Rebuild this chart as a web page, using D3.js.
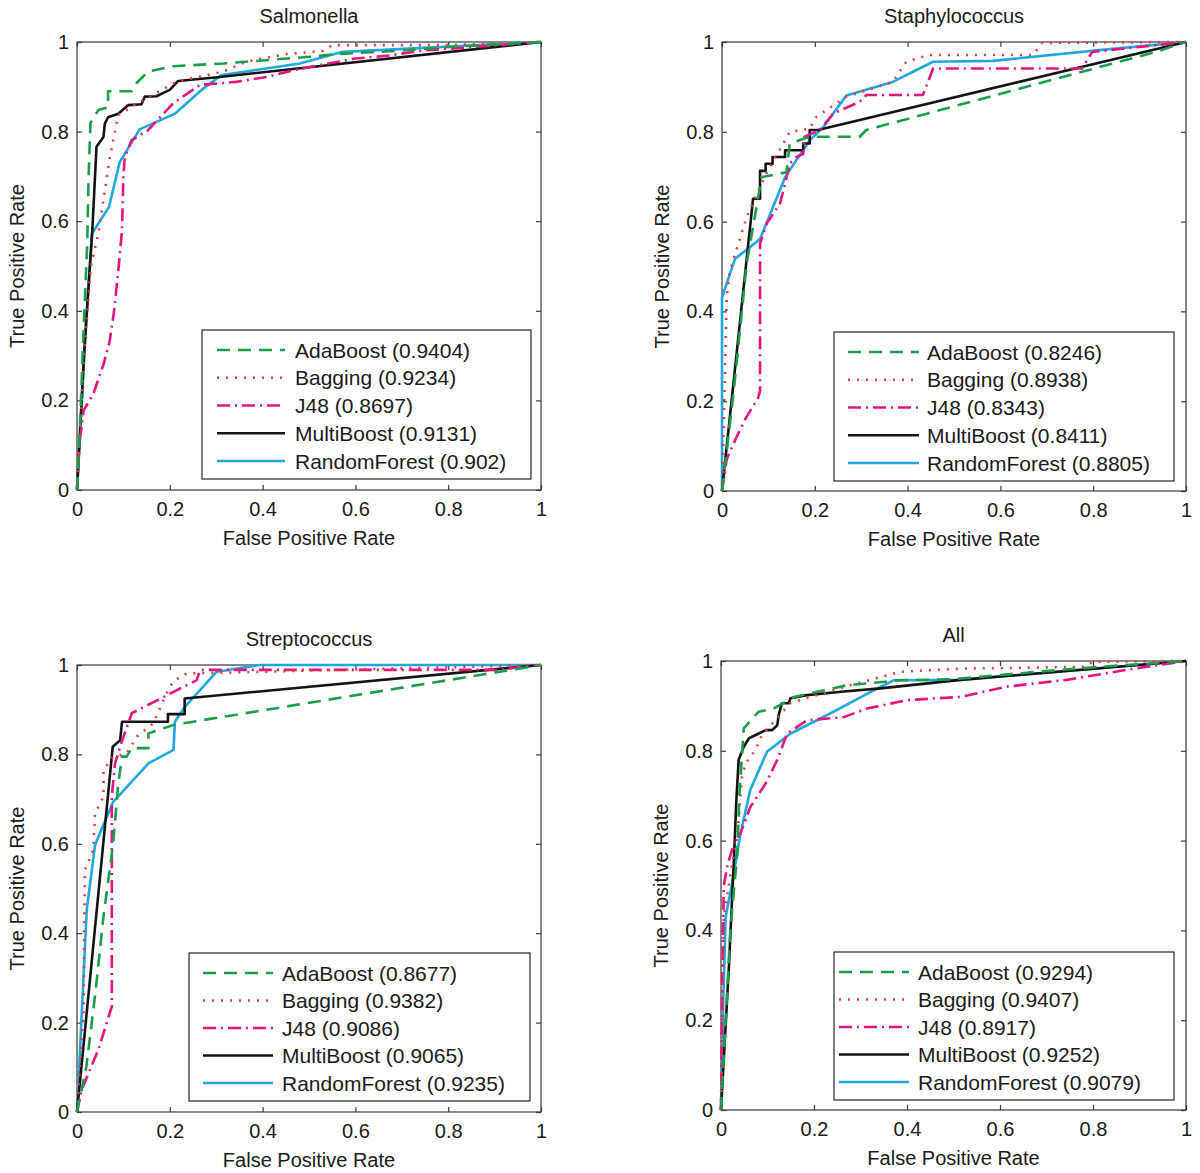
<!DOCTYPE html>
<html>
<head>
<meta charset="utf-8">
<script src="https://cdn.jsdelivr.net/npm/d3@7/dist/d3.min.js"></script>
<style>
  body { margin: 0; background: #fff; }
  svg { font-family: "Liberation Sans", Arial, sans-serif; }
  .tick text { font-size: 20px; fill: #1a1a1a; }
</style>
</head>
<body>
<div id="chart"></div>
<script>
// --- data ---
var panelTitles = ['Salmonella', 'Staphylococcus', 'Streptococcus', 'All'];
var models = ['AdaBoost', 'Bagging', 'J48', 'MultiBoost', 'RandomForest'];
var tickValues = [0, 0.2, 0.4, 0.6, 0.8, 1];
var tickLabels = ['0', '0.2', '0.4', '0.6', '0.8', '1'];

var aucSalmonella = ['0.9404', '0.9234', '0.8697', '0.9131', '0.902'];
var aucStaphylococcus = ['0.8246', '0.8938', '0.8343', '0.8411', '0.8805'];
var aucStreptococcus = ['0.8677', '0.9382', '0.9086', '0.9065', '0.9235'];
var aucAll = ['0.9294', '0.9407', '0.8917', '0.9252', '0.9079'];

// ROC points [FPR, TPR]
var salAda = [[0,0],[0.005,0.1],[0.012,0.3],[0.018,0.45],[0.022,0.55],[0.025,0.7],[0.029,0.82],[0.046,0.848],[0.067,0.854],[0.067,0.89],[0.118,0.89],[0.128,0.908],[0.153,0.934],[0.207,0.946],[0.315,0.952],[0.501,0.967],[0.558,0.973],[0.63,0.977],[0.688,0.98],[0.802,0.989],[1,1]];
var salBag = [[0,0],[0.005,0.1],[0.015,0.3],[0.03,0.5],[0.046,0.572],[0.06,0.669],[0.071,0.743],[0.082,0.803],[0.089,0.837],[0.135,0.866],[0.214,0.911],[0.315,0.934],[0.365,0.956],[0.451,0.973],[0.53,0.98],[0.55,0.993],[0.8,0.993],[1,1]];
var salJ48 = [[0,0],[0.005,0.1],[0.014,0.177],[0.035,0.214],[0.057,0.28],[0.07,0.33],[0.08,0.4],[0.09,0.5],[0.097,0.58],[0.1,0.7],[0.103,0.743],[0.118,0.781],[0.153,0.803],[0.207,0.863],[0.265,0.904],[0.343,0.911],[0.408,0.922],[0.48,0.94],[0.6,0.963],[0.673,0.97],[0.744,0.981],[0.817,0.986],[1,1]];
var salMulti = [[0,0],[0.015,0.3],[0.033,0.579],[0.042,0.766],[0.057,0.788],[0.06,0.818],[0.067,0.832],[0.089,0.84],[0.11,0.859],[0.139,0.861],[0.146,0.878],[0.171,0.879],[0.2,0.893],[0.218,0.913],[0.308,0.922],[1,1]];
var salRF = [[0,0],[0.008,0.15],[0.02,0.38],[0.032,0.572],[0.069,0.632],[0.092,0.732],[0.135,0.805],[0.211,0.84],[0.272,0.896],[0.311,0.926],[0.48,0.952],[0.573,0.978],[1,1]];

var staAda = [[0,0],[0.025,0.22],[0.046,0.432],[0.053,0.506],[0.078,0.654],[0.085,0.699],[0.139,0.71],[0.146,0.774],[0.189,0.789],[0.297,0.789],[0.311,0.804],[0.935,0.978],[1,1]];
var staBag = [[0,0],[0.005,0.2],[0.01,0.431],[0.017,0.49],[0.053,0.61],[0.082,0.677],[0.099,0.714],[0.146,0.8],[0.189,0.807],[0.203,0.833],[0.268,0.878],[0.368,0.911],[0.397,0.956],[0.447,0.971],[0.67,0.971],[0.69,0.998],[1,1]];
var staJ48 = [[0,0],[0.01,0.07],[0.024,0.104],[0.05,0.16],[0.078,0.208],[0.082,0.223],[0.082,0.551],[0.096,0.595],[0.125,0.64],[0.136,0.685],[0.146,0.729],[0.161,0.744],[0.175,0.751],[0.178,0.789],[0.211,0.804],[0.24,0.841],[0.297,0.867],[0.311,0.882],[0.433,0.882],[0.455,0.941],[0.776,0.941],[0.798,0.978],[1,1]];
var staMulti = [[0,0],[0.067,0.651],[0.082,0.651],[0.082,0.713],[0.094,0.713],[0.094,0.729],[0.109,0.729],[0.109,0.744],[0.136,0.744],[0.136,0.759],[0.175,0.759],[0.175,0.774],[0.189,0.774],[0.189,0.804],[0.207,0.804],[1,1]];
var staRF = [[0,0],[0,0.431],[0.028,0.517],[0.082,0.561],[0.136,0.699],[0.189,0.781],[0.218,0.81],[0.268,0.881],[0.368,0.911],[0.455,0.956],[0.584,0.958],[0.813,0.982],[1,1]];

var strAda = [[0,0],[0.02,0.1],[0.04,0.27],[0.057,0.437],[0.078,0.601],[0.089,0.735],[0.097,0.795],[0.107,0.795],[0.118,0.814],[0.154,0.814],[0.154,0.847],[0.208,0.866],[1,1]];
var strBag = [[0,0],[0.006,0.1],[0.014,0.213],[0.017,0.541],[0.035,0.586],[0.039,0.668],[0.057,0.705],[0.057,0.765],[0.078,0.795],[0.107,0.802],[0.129,0.84],[0.165,0.87],[0.19,0.93],[0.207,0.963],[0.236,0.981],[0.4,0.985],[1,1]];
var strJ48 = [[0,0],[0.01,0.05],[0.046,0.139],[0.068,0.213],[0.075,0.236],[0.075,0.705],[0.082,0.78],[0.097,0.83],[0.118,0.892],[0.208,0.94],[0.258,0.966],[0.265,0.989],[0.9,0.989],[1,1]];
var strMulti = [[0,0],[0.077,0.817],[0.093,0.832],[0.097,0.873],[0.196,0.873],[0.196,0.89],[0.232,0.89],[0.232,0.925],[1,1]];
var strRF = [[0,0],[0.021,0.452],[0.039,0.598],[0.078,0.694],[0.154,0.78],[0.208,0.81],[0.211,0.873],[0.233,0.907],[0.301,0.985],[0.394,1],[1,1]];

var allAda = [[0,0],[0.01,0.2],[0.02,0.4],[0.035,0.571],[0.04,0.71],[0.049,0.85],[0.081,0.887],[0.113,0.894],[0.157,0.92],[0.271,0.946],[0.386,0.957],[0.493,0.959],[0.679,0.976],[0.815,0.987],[1,1]];
var allBag = [[0,0],[0.003,0.25],[0.006,0.43],[0.024,0.549],[0.035,0.609],[0.045,0.742],[0.053,0.772],[0.074,0.802],[0.088,0.835],[0.149,0.906],[0.192,0.92],[0.278,0.946],[0.385,0.976],[0.515,0.983],[0.78,0.987],[0.8,0.998],[1,1]];
var allJ48 = [[0,0],[0.003,0.3],[0.006,0.5],[0.015,0.55],[0.03,0.6],[0.042,0.616],[0.063,0.675],[0.096,0.727],[0.121,0.78],[0.142,0.838],[0.185,0.868],[0.264,0.875],[0.314,0.894],[0.4,0.913],[0.515,0.92],[0.615,0.943],[0.744,0.958],[0.894,0.984],[1,1]];
var allMulti = [[0,0],[0.017,0.319],[0.028,0.564],[0.033,0.69],[0.038,0.78],[0.049,0.809],[0.06,0.828],[0.096,0.846],[0.11,0.846],[0.121,0.857],[0.124,0.879],[0.131,0.906],[0.146,0.906],[0.149,0.917],[0.185,0.924],[0.264,0.932],[0.343,0.939],[0.515,0.958],[1,1]];
var allRF = [[0,0],[0.005,0.25],[0.01,0.43],[0.024,0.505],[0.042,0.616],[0.063,0.713],[0.099,0.798],[0.149,0.838],[0.242,0.887],[0.314,0.927],[0.371,0.957],[0.515,0.958],[1,1]];

// --- styling ---
var colors = ['#1b9d4c', '#ea3b3f', '#e5157f', '#141414', '#1fa7e1'];
var dashes = ['13,8', '2,7', '13,5,2,5', null, null];

// panel boxes: left, top, right, bottom ; legend box
var layout = [
  { x0: 77,  y0: 42,  x1: 541,  y1: 490,  lg: [202, 330, 531, 479], lineX: [217, 285], textX: 295 },
  { x0: 722, y0: 42,  x1: 1186, y1: 491,  lg: [834, 332, 1174, 481], lineX: [848, 919], textX: 927 },
  { x0: 77,  y0: 665, x1: 541,  y1: 1112, lg: [189, 953, 530, 1101], lineX: [203, 273], textX: 282 },
  { x0: 721, y0: 661, x1: 1186, y1: 1110, lg: [834, 952, 1174, 1100], lineX: [839, 909], textX: 918 }
];

var panels = [
  { title: panelTitles[0], auc: aucSalmonella, series: [salAda, salBag, salJ48, salMulti, salRF] },
  { title: panelTitles[1], auc: aucStaphylococcus, series: [staAda, staBag, staJ48, staMulti, staRF] },
  { title: panelTitles[2], auc: aucStreptococcus, series: [strAda, strBag, strJ48, strMulti, strRF] },
  { title: panelTitles[3], auc: aucAll, series: [allAda, allBag, allJ48, allMulti, allRF] }
];

var svg = d3.select('#chart').append('svg')
  .attr('width', 1200)
  .attr('height', 1173);

var axisColor = '#3a3a3a';

panels.forEach(function(p, i) {
  var L = layout[i];
  var x = d3.scaleLinear().domain([0, 1]).range([L.x0, L.x1]);
  var y = d3.scaleLinear().domain([0, 1]).range([L.y1, L.y0]);
  var g = svg.append('g');
  var fmt = function(d, k) { return tickLabels[k]; };

  // box
  g.append('rect')
    .attr('x', L.x0).attr('y', L.y0)
    .attr('width', L.x1 - L.x0).attr('height', L.y1 - L.y0)
    .attr('fill', 'none').attr('stroke', axisColor).attr('stroke-width', 1.2);

  var bottom = g.append('g').attr('transform', 'translate(0,' + L.y1 + ')')
    .call(d3.axisBottom(x).tickValues(tickValues).tickFormat(fmt).tickSizeInner(-5).tickSizeOuter(0).tickPadding(12));
  var left = g.append('g').attr('transform', 'translate(' + L.x0 + ',0)')
    .call(d3.axisLeft(y).tickValues(tickValues).tickFormat(fmt).tickSizeInner(-5).tickSizeOuter(0).tickPadding(8));
  var top = g.append('g').attr('transform', 'translate(0,' + L.y0 + ')')
    .call(d3.axisTop(x).tickValues(tickValues).tickFormat('').tickSizeInner(-5).tickSizeOuter(0));
  var right = g.append('g').attr('transform', 'translate(' + L.x1 + ',0)')
    .call(d3.axisRight(y).tickValues(tickValues).tickFormat('').tickSizeInner(-5).tickSizeOuter(0));
  [bottom, left, top, right].forEach(function(a) {
    a.select('.domain').remove();
    a.selectAll('.tick line').attr('stroke', axisColor).attr('stroke-width', 1.2);
    a.selectAll('.tick text').attr('font-family', null).attr('font-size', null);
  });

  // curves
  var line = d3.line().x(function(d) { return x(d[0]); }).y(function(d) { return y(d[1]); });
  // draw in reverse so AdaBoost ends up on top like the figure
  [4, 3, 2, 1, 0].forEach(function(k) {
    g.append('path')
      .datum(p.series[k])
      .attr('d', line)
      .attr('fill', 'none')
      .attr('stroke', colors[k])
      .attr('stroke-width', 2.6)
      .attr('stroke-linejoin', 'round')
      .attr('stroke-dasharray', dashes[k]);
  });

  // title and axis labels
  var cx = (L.x0 + L.x1) / 2;
  g.append('text').attr('x', cx).attr('y', L.y0 - 19)
    .attr('text-anchor', 'middle').attr('font-size', 20).attr('fill', '#1a1a1a')
    .text(p.title);
  g.append('text').attr('x', cx).attr('y', L.y1 + 55)
    .attr('text-anchor', 'middle').attr('font-size', 20).attr('fill', '#1a1a1a')
    .text('False Positive Rate');
  g.append('text')
    .attr('transform', 'translate(' + (L.x0 - 53) + ',' + ((L.y0 + L.y1) / 2) + ') rotate(-90)')
    .attr('text-anchor', 'middle').attr('font-size', 20).attr('fill', '#1a1a1a')
    .text('True Positive Rate');

  // legend
  var lg = L.lg;
  g.append('rect')
    .attr('x', lg[0]).attr('y', lg[1])
    .attr('width', lg[2] - lg[0]).attr('height', lg[3] - lg[1])
    .attr('fill', '#fff').attr('stroke', '#262626').attr('stroke-width', 1.2);
  var rowH = (lg[3] - lg[1] - 38) / 4;
  models.forEach(function(m, k) {
    var ry = lg[1] + 20 + k * rowH;
    g.append('line')
      .attr('x1', L.lineX[0]).attr('x2', L.lineX[1])
      .attr('y1', ry).attr('y2', ry)
      .attr('stroke', colors[k]).attr('stroke-width', 2.6)
      .attr('stroke-dasharray', dashes[k]);
    g.append('text')
      .attr('x', L.textX).attr('y', ry + 7.5)
      .attr('font-size', 21).attr('fill', '#1a1a1a')
      .text(m + ' (' + p.auc[k] + ')');
  });
});
</script>
</body>
</html>
